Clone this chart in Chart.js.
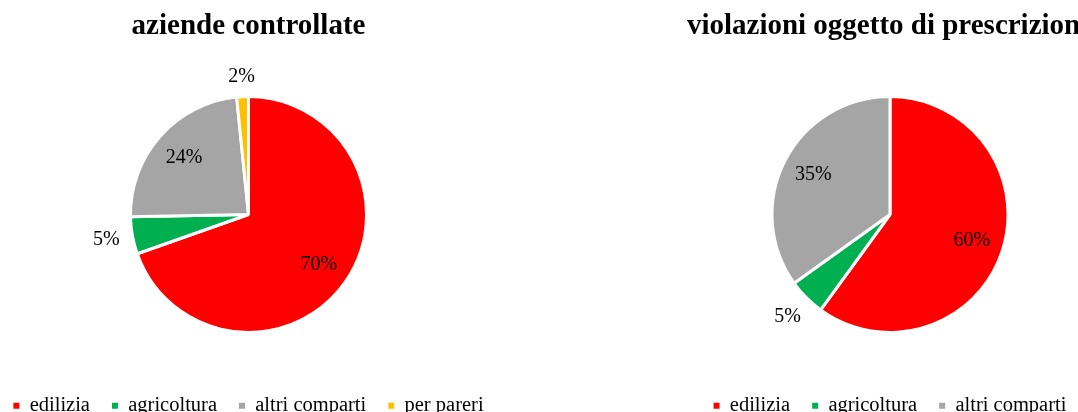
<!DOCTYPE html>
<html>
<head>
<meta charset="utf-8">
<script src="https://cdn.jsdelivr.net/npm/chart.js@4.4.0/dist/chart.umd.min.js"></script>
<style>
  html, body { margin: 0; padding: 0; background: #fff; overflow: hidden; width: 1078px; height: 412px; }
  canvas { position: absolute; top: 0; }
  #left { left: -24px; }
  #right { left: 618px; }
</style>
</head>
<body>
<canvas id="left" width="545" height="426"></canvas>
<canvas id="right" width="544" height="426"></canvas>
<script>
// data (shares in %)
const leftTitle = "aziende controllate";
const leftLabels = ["edilizia", "agricoltura", "altri comparti", "per pareri"];
const leftValues = [69.6, 5.1, 23.7, 1.6];

const rightTitle = "violazioni oggetto di prescrizione";
const rightLabels = ["edilizia", "agricoltura", "altri comparti"];
const rightValues = [60.0, 5.1, 34.9];

const colors = ["#FF0000", "#00B050", "#A5A5A5", "#FFC000"];
const serif = '"Liberation Serif", "Times New Roman", serif';

// percentage labels, small slices go outside
const pctLabels = {
  id: "pctLabels",
  afterDatasetsDraw(chart) {
    const ctx = chart.ctx;
    const meta = chart.getDatasetMeta(0);
    const vals = chart.data.datasets[0].data;
    const total = vals.reduce((a, b) => a + b, 0);
    ctx.save();
    ctx.font = "20px " + serif;
    ctx.fillStyle = "#000";
    ctx.textAlign = "center";
    ctx.textBaseline = "middle";
    meta.data.forEach((arc, i) => {
      const p = arc.getProps(["x", "y", "startAngle", "endAngle", "outerRadius"], true);
      const pct = vals[i] / total * 100;
      const txt = Math.round(pct) + "%";
      const mid = (p.startAngle + p.endAngle) / 2;
      const cx = Math.cos(mid), cy = Math.sin(mid);
      let d;
      if (pct >= 10) {
        d = p.outerRadius * 0.73;
      } else {
        const w = ctx.measureText(txt).width;
        d = p.outerRadius + 12 + Math.abs(cx) * w / 2 + Math.abs(cy) * 7;
      }
      ctx.fillText(txt, p.x + cx * d, p.y + cy * d);
    });
    ctx.restore();
  }
};

function makePie(id, title, labels, values) {
  new Chart(document.getElementById(id), {
    type: "pie",
    data: {
      labels: labels,
      datasets: [{
        data: values,
        backgroundColor: colors.slice(0, values.length),
        borderColor: "#fff",
        borderWidth: 3,
        radius: 118
      }]
    },
    options: {
      responsive: false,
      animation: false,
      devicePixelRatio: 1,
      plugins: {
        title: {
          display: true,
          text: title,
          color: "#000",
          font: { family: serif, size: 29, weight: "bold", lineHeight: 1.2 },
          padding: { top: 9, bottom: 11.7 }
        },
        legend: {
          position: "bottom",
          labels: {
            color: "#000",
            font: { family: serif, size: 20.5 },
            usePointStyle: true,
            pointStyle: "rect",
            boxWidth: 6,
            boxHeight: 6,
            padding: 22,
            generateLabels(chart) {
              const items = Chart.overrides.pie.plugins.legend.labels.generateLabels(chart);
              items.forEach(it => { it.lineWidth = 0; it.strokeStyle = it.fillStyle; });
              return items;
            }
          }
        },
        tooltip: { enabled: false }
      }
    },
    plugins: [pctLabels]
  });
}

makePie("left", leftTitle, leftLabels, leftValues);
makePie("right", rightTitle, rightLabels, rightValues);
</script>
</body>
</html>
